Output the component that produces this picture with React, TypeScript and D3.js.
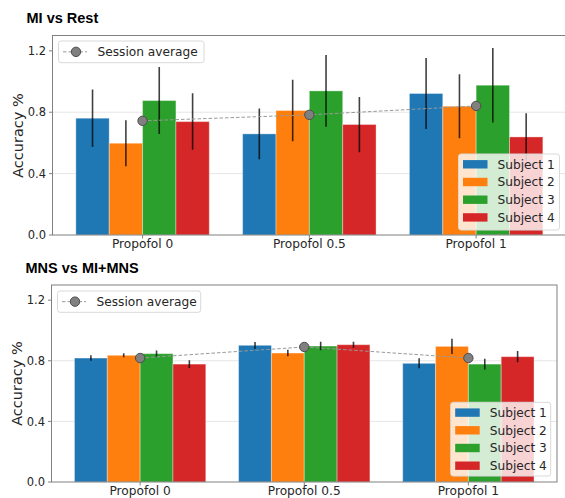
import React from "react";
import * as d3 from "d3";

const categories = ["Propofol 0", "Propofol 0.5", "Propofol 1"];
const subjects = ["Subject 1", "Subject 2", "Subject 3", "Subject 4"];
const colors = ["#1f77b4", "#ff7f0e", "#2ca02c", "#d62728"];
const yTicks = [0.0, 0.4, 0.8, 1.2];
const gridTicks = [0.4, 0.8];

// MI vs Rest: per subject, values per category
const miRestMeans = [
  [0.761, 0.659, 0.922],
  [0.598, 0.811, 0.839],
  [0.876, 0.939, 0.976],
  [0.739, 0.72, 0.639],
];
const miRestErr = [
  [0.187, 0.165, 0.231],
  [0.15, 0.2, 0.209],
  [0.218, 0.234, 0.243],
  [0.184, 0.18, 0.155],
];
const miRestAvg = [0.744, 0.783, 0.841];

// MNS vs MI+MNS
const mnsMeans = [
  [0.818, 0.902, 0.783],
  [0.836, 0.851, 0.895],
  [0.847, 0.897, 0.778],
  [0.778, 0.906, 0.827],
];
const mnsErr = [
  [0.018, 0.022, 0.033],
  [0.013, 0.022, 0.05],
  [0.02, 0.028, 0.035],
  [0.025, 0.02, 0.037],
];
const mnsAvg = [0.818, 0.891, 0.818];

const FONT = "DejaVu Sans, sans-serif";
const SPINE = "#808080";

type PanelProps = {
  title: string;
  titleY: number;
  left: number;
  right: number;
  top: number;
  bottom: number;
  means: number[][];
  errs: number[][];
  avg: number[];
  legendBox: { x: number; y: number; w: number; h: number };
  avgLegend: { x: number; y: number; w: number; h: number };
  yLabelY: number;
  clipId: string;
};

function Panel(p: PanelProps) {
  const x = d3.scaleLinear().domain([-0.54, 2.54]).range([p.left, p.right]);
  const y = d3.scaleLinear().domain([0, 1.3]).range([p.bottom, p.top]);
  const bw = 0.2;
  const line = d3
    .line<number>()
    .x((_, i) => x(i))
    .y((d) => y(d));
  return (
    <g>
      <text x={p.left - 26} y={p.titleY} fontFamily="Liberation Sans, Arial, sans-serif" fontWeight="bold" fontSize={14.5} fill="#000">
        {p.title}
      </text>
      <defs>
        <clipPath id={p.clipId}>
          <rect x={p.left} y={p.top} width={p.right - p.left} height={p.bottom - p.top} />
        </clipPath>
      </defs>
      <g clipPath={`url(#${p.clipId})`}>
        {gridTicks.map((t) => (
          <line key={t} x1={p.left} x2={p.right} y1={y(t)} y2={y(t)} stroke="#e6e6e6" strokeWidth={1} />
        ))}
        {p.means.map((series, s) =>
          series.map((v, c) => {
            const x0 = x(c + (s - 2) * bw);
            const x1 = x(c + (s - 1) * bw);
            return (
              <rect
                key={`b${s}-${c}`}
                x={x0}
                y={y(v)}
                width={x1 - x0}
                height={y(0) - y(v)}
                fill={colors[s]}
                stroke="#ffffff"
                strokeOpacity={0.35}
                strokeWidth={1}
              />
            );
          })
        )}
        {p.means.map((series, s) =>
          series.map((v, c) => {
            const cx = x(c + (s - 2) * bw + bw / 2);
            const e = p.errs[s][c];
            return (
              <line
                key={`e${s}-${c}`}
                x1={cx}
                x2={cx}
                y1={y(v - e)}
                y2={y(v + e)}
                stroke="#000"
                strokeOpacity={0.75}
                strokeWidth={1.6}
              />
            );
          })
        )}
        <path d={line(p.avg) || ""} fill="none" stroke="#999" strokeWidth={1} strokeDasharray="3.5,2" />
        {p.avg.map((v, c) => (
          <circle key={`a${c}`} cx={x(c)} cy={y(v)} r={4.7} fill="#808080" stroke="#4d4d4d" strokeWidth={1} />
        ))}
      </g>
      {/* spines */}
      <rect x={p.left} y={p.top} width={p.right - p.left} height={p.bottom - p.top} fill="none" stroke={SPINE} strokeWidth={1} />
      {/* y ticks */}
      {yTicks.map((t) => (
        <g key={`yt${t}`}>
          <line x1={p.left - 3.5} x2={p.left} y1={y(t)} y2={y(t)} stroke={SPINE} strokeWidth={1} />
          <text x={p.left - 6.5} y={y(t)} dy="0.36em" textAnchor="end" fontFamily={FONT} fontSize={11.5} fill="#262626">
            {t.toFixed(1)}
          </text>
        </g>
      ))}
      {/* x ticks */}
      {categories.map((c, i) => (
        <g key={`xt${i}`}>
          <line x1={x(i)} x2={x(i)} y1={p.bottom} y2={p.bottom + 3.5} stroke={SPINE} strokeWidth={1} />
          <text x={x(i)} y={p.bottom + 13} textAnchor="middle" fontFamily={FONT} fontSize={12.2} fill="#262626">
            {c}
          </text>
        </g>
      ))}
      <text
        transform={`translate(${p.left - 30},${p.yLabelY}) rotate(-90)`}
        textAnchor="middle"
        fontFamily={FONT}
        fontSize={14.5}
        fill="#262626"
      >
        Accuracy %
      </text>
      {/* session average legend */}
      <rect
        x={p.avgLegend.x}
        y={p.avgLegend.y}
        width={p.avgLegend.w}
        height={p.avgLegend.h}
        rx={2.5}
        fill="#fff"
        fillOpacity={0.8}
        stroke="#d9d9d9"
        strokeWidth={1}
      />
      <line
        x1={p.avgLegend.x + 4.5}
        x2={p.avgLegend.x + 28.5}
        y1={p.avgLegend.y + p.avgLegend.h / 2}
        y2={p.avgLegend.y + p.avgLegend.h / 2}
        stroke="#999"
        strokeWidth={1}
        strokeDasharray="3.5,2"
      />
      <circle cx={p.avgLegend.x + 17.5} cy={p.avgLegend.y + p.avgLegend.h / 2} r={4.7} fill="#808080" stroke="#4d4d4d" strokeWidth={1} />
      <text
        x={p.avgLegend.x + 39}
        y={p.avgLegend.y + p.avgLegend.h / 2}
        dy="0.36em"
        fontFamily={FONT}
        fontSize={12.2}
        fill="#262626"
      >
        Session average
      </text>
      {/* subject legend */}
      <rect
        x={p.legendBox.x}
        y={p.legendBox.y}
        width={p.legendBox.w}
        height={p.legendBox.h}
        rx={2.5}
        fill="#fff"
        fillOpacity={0.8}
        stroke="#d9d9d9"
        strokeWidth={1}
      />
      {subjects.map((s, i) => {
        const cy = p.legendBox.y + 10.3 + i * 17.7;
        return (
          <g key={`lg${i}`}>
            <rect x={p.legendBox.x + 4.5} y={cy - 4.2} width={24.5} height={8.4} fill={colors[i]} />
            <text x={p.legendBox.x + 39} y={cy} dy="0.36em" fontFamily={FONT} fontSize={12.2} fill="#262626">
              {s}
            </text>
          </g>
        );
      })}
    </g>
  );
}

export default function App() {
  return (
    <svg
      width={565}
      height={498}
      style={{ position: "absolute", left: 0, top: 0, background: "#fff" }}
    >
      <rect x={0} y={0} width={565} height={498} fill="#fff" />
      <Panel
        title="MI vs Rest"
        titleY={22.5}
        left={52.5}
        right={566.2}
        top={35.5}
        bottom={235}
        means={miRestMeans}
        errs={miRestErr}
        avg={miRestAvg}
        legendBox={{ x: 458.5, y: 154, w: 101, h: 76 }}
        avgLegend={{ x: 58.5, y: 41, w: 145.5, h: 21.7 }}
        yLabelY={135.5}
        clipId="clipA"
      />
      <Panel
        title="MNS vs MI+MNS"
        titleY={272.5}
        left={51.5}
        right={557}
        top={285}
        bottom={482}
        means={mnsMeans}
        errs={mnsErr}
        avg={mnsAvg}
        legendBox={{ x: 450.7, y: 402.3, w: 100, h: 73.7 }}
        avgLegend={{ x: 57.5, y: 291, w: 143.2, h: 21.3 }}
        yLabelY={383.5}
        clipId="clipB"
      />
    </svg>
  );
}
